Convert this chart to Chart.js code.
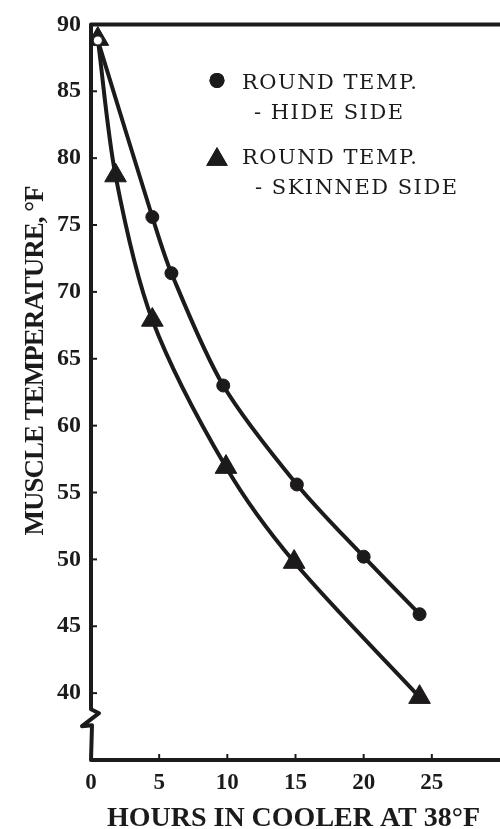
<!DOCTYPE html>
<html>
<head>
<meta charset="utf-8">
<script src="https://cdn.jsdelivr.net/npm/chart.js@4"></script>
<style>
    body { margin: 0; background: #fff; }
</style>
</head>
<body>
<canvas id="chart" width="500" height="829"></canvas>
<script>
// ---------------- DATA ----------------

const hideHours = [0.5, 4.5, 5.9, 9.7, 15.1, 20.0, 24.1];
const hideTemps = [88.8, 75.6, 71.4, 63.0, 55.6, 50.2, 45.9];

const skinnedHours = [0.5, 1.8, 4.5, 9.9, 14.9, 24.1];
const skinnedTemps = [88.9, 78.7, 67.9, 56.9, 49.8, 39.7];

const xTicks = [0, 5, 10, 15, 20, 25];
const yTicks = [40, 45, 50, 55, 60, 65, 70, 75, 80, 85, 90];

const hideLabel = ["ROUND TEMP.", "- HIDE SIDE"];
const skinnedLabel = ["ROUND TEMP.", "- SKINNED SIDE"];
const xTitle = "HOURS IN COOLER AT 38°F";
const yTitle = "MUSCLE TEMPERATURE, °F";

const INK = "#1c1a1a";

// ---------------- FRAME / LEGEND PLUGIN ----------------

const frame = {
    id: "frame",
    afterDatasetsDraw(chart) {
        const { ctx, chartArea: a, scales: { x, y } } = chart;
        ctx.save();
        ctx.strokeStyle = INK;

        // tick marks, both pointing into the plot
        ctx.lineWidth = 2;
        yTicks.forEach(v => {
            const py = y.getPixelForValue(v);
            ctx.beginPath();
            ctx.moveTo(a.left, py);
            ctx.lineTo(a.left + 6, py);
            ctx.stroke();
        });
        xTicks.forEach(v => {
            const px = x.getPixelForValue(v);
            ctx.beginPath();
            ctx.moveTo(px, a.bottom);
            ctx.lineTo(px, a.bottom - 6);
            ctx.stroke();
        });

        // axes with the break on the y axis
        const yb = y.getPixelForValue(38.5);
        ctx.lineWidth = 4;
        ctx.lineJoin = "round";
        ctx.beginPath();
        ctx.moveTo(a.right, a.top);
        ctx.lineTo(a.left, a.top);
        ctx.lineTo(a.left, yb - 4);
        ctx.lineTo(a.left + 8, yb);
        ctx.lineTo(a.left - 9, yb + 13);
        ctx.lineTo(a.left + 1, yb + 12);
        ctx.lineTo(a.left, a.bottom);
        ctx.lineTo(a.right, a.bottom);
        ctx.stroke();

        // axis titles
        ctx.fillStyle = INK;
        ctx.font = "bold 28px 'Liberation Serif'";
        ctx.textAlign = "center";
        ctx.textBaseline = "alphabetic";
        ctx.fillText(xTitle, (a.left + a.right) / 2 - 2, 826);

        ctx.save();
        ctx.translate(43, 361);
        ctx.rotate(-Math.PI / 2);
        ctx.font = "bold 27px 'Liberation Serif'";
        ctx.letterSpacing = "-1px";
        ctx.fillText(yTitle, 0, 0);
        ctx.restore();

        // legend
        const rows = [
            { ds: 0, lines: hideLabel, mx: 126, my: 56, r: 7.5, tx: 151, ty: 65, ix: 163 },
            { ds: 1, lines: skinnedLabel, mx: 126, my: 135, r: 12.5, tx: 151, ty: 140, ix: 164 }
        ];
        ctx.font = "21px 'DejaVu Serif'";
        ctx.textAlign = "left";
        ctx.letterSpacing = "1.5px";
        rows.forEach(row => {
            const ds = chart.data.datasets[row.ds];
            ctx.fillStyle = INK;
            Chart.helpers.drawPoint(ctx, {
                pointStyle: ds.pointStyle,
                radius: row.r,
                borderWidth: 0,
                rotation: 0
            }, a.left + row.mx, a.top + row.my);
            ctx.fill();
            ctx.fillText(row.lines[0], a.left + row.tx, a.top + row.ty);
            ctx.fillText(row.lines[1], a.left + row.ix, a.top + row.ty + 30);
        });

        ctx.restore();
    }
};

// ---------------- CHART ----------------

const ctx = document.getElementById("chart").getContext("2d");

new Chart(ctx, {
    type: "line",
    data: {
        datasets: [
            {
                label: hideLabel.join(" "),
                data: hideHours.map((h, i) => ({ x: h, y: hideTemps[i] })),
                borderColor: INK,
                borderWidth: 4,
                tension: 0.3,
                pointStyle: "circle",
                pointRadius: c => c.dataIndex === 0 ? 4.5 : 6.5,
                pointBackgroundColor: c => c.dataIndex === 0 ? "#fff" : INK,
                pointBorderColor: INK,
                pointBorderWidth: 1,
                fill: false
            },
            {
                label: skinnedLabel.join(" "),
                data: skinnedHours.map((h, i) => ({ x: h, y: skinnedTemps[i] })),
                borderColor: INK,
                borderWidth: 4,
                tension: 0.3,
                pointStyle: "triangle",
                pointRadius: 12.5,
                pointBackgroundColor: INK,
                pointBorderColor: INK,
                pointBorderWidth: 1,
                fill: false
            }
        ]
    },
    options: {
        responsive: false,
        animation: false,
        layout: { autoPadding: false, padding: { top: 20, right: 0, left: 0, bottom: 0 } },
        plugins: {
            legend: { display: false },
            tooltip: { enabled: false }
        },
        scales: {
            x: {
                type: "linear",
                min: 0,
                max: 30,
                afterBuildTicks: s => { s.ticks = xTicks.map(v => ({ value: v })); },
                afterFit: s => { s.height = 69; },
                grid: { display: false, drawTicks: false },
                border: { display: false },
                ticks: {
                    color: INK,
                    padding: 9,
                    maxRotation: 0,
                    font: { family: "'Liberation Serif'", size: 23, weight: "bold" }
                }
            },
            y: {
                type: "linear",
                min: 35,
                max: 90,
                afterBuildTicks: s => { s.ticks = yTicks.map(v => ({ value: v })); },
                afterFit: s => { s.width = 91; },
                grid: { display: false, drawTicks: false },
                border: { display: false },
                ticks: {
                    color: INK,
                    padding: 10,
                    font: { family: "'Liberation Serif'", size: 24, weight: "bold" }
                }
            }
        }
    },
    plugins: [frame]
});
</script>
</body>
</html>
